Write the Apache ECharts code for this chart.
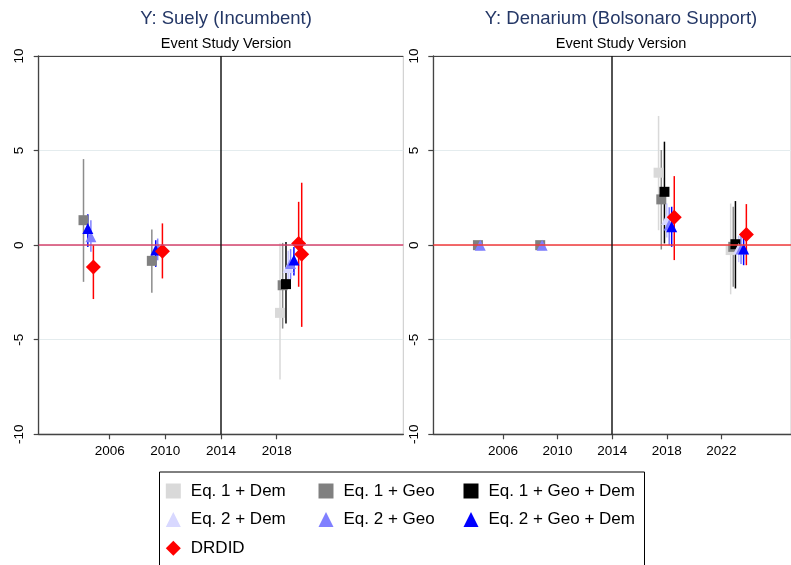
<!DOCTYPE html>
<html><head><meta charset="utf-8">
<script src="https://cdn.jsdelivr.net/npm/echarts@6/dist/echarts.min.js"></script>
<style>html,body{margin:0;padding:0;background:#fff}#c{width:791px;height:565px}</style>
</head><body><div id="c"></div>
<script>
// Each point: [x position (year), estimate, lower CI, upper CI]
const suelyEq1Dem    = [[2018.24, -3.58, -7.1, 0.1]];
const suelyEq1Geo    = [[2004.12, 1.32, -1.94, 4.55], [2009.03, -0.83, -2.52, 0.83], [2018.43, -2.12, -4.41, 0.12]];
const suelyEq1GeoDem = [[2018.67, -2.06, -4.14, 0.17]];
const suelyEq2Dem    = [[2018.83, -1.18, -1.8, -0.3]];
const suelyEq2Geo    = [[2004.65, 0.44, -0.35, 1.32], [2009.45, -0.15, -0.8, 0.35], [2019.0, -0.97, -1.8, -0.2]];
const suelyEq2GeoDem = [[2004.43, 0.88, -0.1, 1.64], [2009.31, -0.26, -1.15, 0.26], [2019.24, -0.79, -1.6, -0.1]];
const suelyDRDID     = [[2004.83, -1.15, -2.85, 0.0], [2009.79, -0.32, -1.76, 1.15], [2019.58, 0.09, -2.2, 2.29], [2019.8, -0.48, -4.32, 3.3]];

const denEq1Dem    = [[2017.4, 3.83, 0.79, 6.83], [2022.68, -0.26, -2.6, 2.2]];
const denEq1Geo    = [[2004.17, 0, 0, 0], [2008.73, 0, 0, 0], [2017.6, 2.42, -0.23, 5.03], [2022.87, -0.09, -2.2, 2.03]];
const denEq1GeoDem = [[2017.83, 2.82, 0.09, 5.47], [2023.03, 0.05, -2.29, 2.33]];
const denEq2Dem    = [[2018.0, 1.36, 0.4, 2.2], [2023.27, -0.18, -0.9, 0.5]];
const denEq2Geo    = [[2004.34, 0, 0, 0], [2008.87, 0, 0, 0], [2018.18, 1.06, 0.0, 2.0], [2023.44, -0.2, -1.0, 0.5]];
const denEq2GeoDem = [[2018.36, 0.97, -0.09, 2.03], [2023.63, -0.21, -1.06, 0.44]];
const denDRDID     = [[2018.55, 1.47, -0.79, 3.65], [2023.83, 0.56, -1.06, 2.17]];

const leftTicks  = [2006, 2010, 2014, 2018];
const rightTicks = [2006, 2010, 2014, 2018, 2022];
const yTicks = [-10, -5, 0, 5, 10];
const treatYear = 2014;
const zeroLine = 0;
const panelTitles = ['Y: Suely (Incumbent)', 'Y: Denarium (Bolsonaro Support)'];
const subTitle = 'Event Study Version';
const seriesNames = ['Eq. 1 + Dem', 'Eq. 1 + Geo', 'Eq. 1 + Geo + Dem', 'Eq. 2 + Dem', 'Eq. 2 + Geo', 'Eq. 2 + Geo + Dem', 'DRDID'];

const FONT = "'Liberation Sans',Arial,sans-serif";
const styles = [
  {symbol: 'rect', size: 10, color: '#d9d9d9', ci: '#d9d9d9'},
  {symbol: 'rect', size: 10, color: '#808080', ci: '#8c8c8c'},
  {symbol: 'rect', size: 10, color: '#000000', ci: '#000000'},
  {symbol: 'triangle', size: 11, color: '#d8d8ff', ci: '#c8c8ff'},
  {symbol: 'triangle', size: 11, color: '#8080ff', ci: '#8080ff'},
  {symbol: 'triangle', size: 11, color: '#0000ff', ci: '#0000ff'},
  {symbol: 'diamond', size: 15, color: '#ff0000', ci: '#ff0000'}
];
const panels = [
  [suelyEq1Dem, suelyEq1Geo, suelyEq1GeoDem, suelyEq2Dem, suelyEq2Geo, suelyEq2GeoDem, suelyDRDID],
  [denEq1Dem, denEq1Geo, denEq1GeoDem, denEq2Dem, denEq2Geo, denEq2GeoDem, denDRDID]
];
const zeroColors = ['#d6436c', '#f23a3a'];

const chart = echarts.init(document.getElementById('c'), null, {renderer: 'canvas'});
const series = [];
panels.forEach((sets, p) => {
  series.push({
    type: 'line', data: [], xAxisIndex: p, yAxisIndex: p, z: 1, silent: true,
    markLine: {
      silent: true, symbol: 'none', label: {show: false}, animation: false,
      data: [
        {yAxis: zeroLine, lineStyle: {color: zeroColors[p], width: 1.6, type: 'solid'}},
        {xAxis: treatYear, lineStyle: {color: '#1a1a1a', width: 1.5, type: 'solid'}}
      ]
    }
  });
  sets.forEach((d, i) => {
    const st = styles[i];
    series.push({
      type: 'custom', name: seriesNames[i], xAxisIndex: p, yAxisIndex: p, z: 2,
      itemStyle: {color: st.color},
      data: d.map(v => [v[0], v[2], v[3]]),
      encode: {x: 0, y: [1, 2]},
      renderItem: (params, api) => {
        const a = api.coord([api.value(0), api.value(1)]);
        const b = api.coord([api.value(0), api.value(2)]);
        return {type: 'line', shape: {x1: a[0], y1: a[1], x2: b[0], y2: b[1]},
                style: {stroke: st.ci, lineWidth: 1.5}};
      }
    });
    series.push({
      type: 'scatter', name: seriesNames[i], xAxisIndex: p, yAxisIndex: p, z: 2,
      symbol: st.symbol, symbolSize: st.size,
      itemStyle: {color: st.color, opacity: 1},
      data: d.map(v => [v[0], v[1]])
    });
  });
});

function xAxis(p, ticks) {
  return {
    type: 'value', gridIndex: p, min: 2000.9, max: 2027.1,
    axisLine: {show: true, onZero: false, lineStyle: {color: '#444', width: 1.3}},
    axisTick: {show: true, customValues: ticks, length: 5, lineStyle: {color: '#444', width: 1.2}},
    axisLabel: {show: true, customValues: ticks, margin: 10, color: '#000', fontSize: 13.5,
                fontFamily: FONT, formatter: v => String(v)},
    splitLine: {show: false}
  };
}
function yAxis(p) {
  return {
    type: 'value', gridIndex: p, min: -10, max: 10, interval: 5,
    axisLine: {show: true, onZero: false, lineStyle: {color: '#444', width: 1.3}},
    axisTick: {show: true, length: 5, lineStyle: {color: '#444', width: 1.2}},
    axisLabel: {show: true, rotate: 90, margin: 12, color: '#000', fontSize: 13.5, fontFamily: FONT,
                formatter: v => String(v)},
    splitLine: {show: true, lineStyle: {color: ['#444', '#e4ecee', '#e4ecee', '#e4ecee', '#444'], width: 1.2}}
  };
}

const legendText = {color: '#000', fontSize: 17, fontFamily: FONT, lineHeight: 20, padding: [0, 0, 0, 5]};
function legend(left, names) {
  return {
    orient: 'vertical', left: left, top: 481, padding: 0, itemWidth: 15, itemHeight: 15, itemGap: 8.6,
    selectedMode: false, textStyle: legendText,
    data: names.map(n => ({name: n, icon: styles[seriesNames.indexOf(n)].symbol}))
  };
}

chart.setOption({
  backgroundColor: '#fff',
  animation: false,
  title: panelTitles.map((t, p) => ({
    text: t, subtext: subTitle, left: p === 0 ? 221 : 616, top: 4, textAlign: 'center', itemGap: 8,
    textStyle: {color: '#243766', fontSize: 18.5, fontWeight: 'normal', fontFamily: FONT},
    subtextStyle: {color: '#000', fontSize: 14.5, fontFamily: FONT}
  })),
  grid: [
    {left: 38.7, top: 56, width: 364.6, height: 378.3, show: true, borderColor: '#c8c8c8', borderWidth: 1, backgroundColor: 'transparent'},
    {left: 433.3, top: 56, width: 364.6, height: 378.3, show: true, borderColor: '#c8c8c8', borderWidth: 1, backgroundColor: 'transparent'}
  ],
  xAxis: [xAxis(0, leftTicks), xAxis(1, rightTicks)],
  yAxis: [yAxis(0), yAxis(1)],
  legend: [
    legend(165.8, ['Eq. 1 + Dem', 'Eq. 2 + Dem', 'DRDID']),
    legend(318.5, ['Eq. 1 + Geo', 'Eq. 2 + Geo']),
    legend(463.5, ['Eq. 1 + Geo + Dem', 'Eq. 2 + Geo + Dem'])
  ],
  graphic: [{type: 'rect', left: 159, top: 471.5, z: -1,
             shape: {width: 485, height: 100}, style: {fill: '#fff', stroke: '#000', lineWidth: 1}}],
  series: series
});
</script></body></html>
